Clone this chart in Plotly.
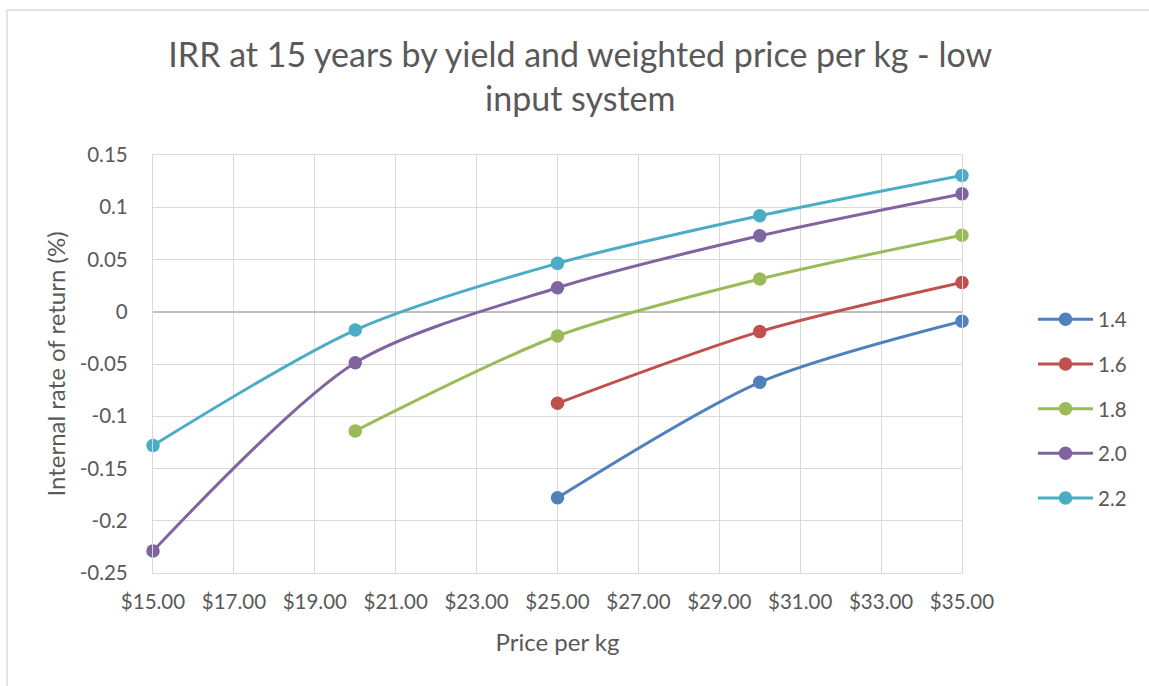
import plotly.graph_objects as go

# Weighted price per kg (AUD) at which each yield scenario was evaluated
price_14 = [25, 30, 35]
price_16 = [25, 30, 35]
price_18 = [20, 25, 30, 35]
price_20 = [15, 20, 25, 30, 35]
price_22 = [15, 20, 25, 30, 35]

# Internal rate of return at 15 years for each yield level
irr_14 = [-0.178, -0.0675, -0.009]
irr_16 = [-0.0876, -0.019, 0.028]
irr_18 = [-0.114, -0.0232, 0.0313, 0.0733]
irr_20 = [-0.229, -0.0488, 0.023, 0.0727, 0.1128]
irr_22 = [-0.128, -0.0175, 0.0463, 0.0918, 0.1304]

yield_labels = ["1.4", "1.6", "1.8", "2.0", "2.2"]
colors = ["#4f81bd", "#c0504d", "#9bbb59", "#8064a2", "#4bacc6"]

x_ticks = list(range(15, 36, 2))
x_ticktext = [f"${v:.2f}" for v in x_ticks]
y_ticks = [0.15, 0.1, 0.05, 0, -0.05, -0.1, -0.15, -0.2, -0.25]
y_ticktext = ["0.15", "0.1", "0.05", "0", "-0.05", "-0.1", "-0.15", "-0.2", "-0.25"]

series = [
    (price_14, irr_14),
    (price_16, irr_16),
    (price_18, irr_18),
    (price_20, irr_20),
    (price_22, irr_22),
]

FONT = "Lato, 'Open Sans', sans-serif"
TEXT = "#595959"
GRID = "#d9d9d9"

fig = go.Figure()
for (xs, ys), name, col in zip(series, yield_labels, colors):
    fig.add_trace(go.Scatter(
        x=xs, y=ys, name=name, mode="lines+markers",
        line=dict(color=col, width=3, shape="spline", smoothing=0.8),
        marker=dict(color=col, size=13.5),
        legendgroup=name, cliponaxis=False,
    ))

W, H = 1149, 686
L, R, T, B = 153, 962, 155, 573

fig.update_layout(
    width=W, height=H,
    margin=dict(l=L, r=W - R, t=T, b=H - B),
    paper_bgcolor="white", plot_bgcolor="white",
    font=dict(family=FONT, color=TEXT, size=20),
    title=dict(
        text="IRR at 15 years by yield and weighted price per kg - low<br>input system",
        font=dict(size=34, color=TEXT, family=FONT),
        x=0.505, xref="container", xanchor="center",
        y=1 - 67 / H, yref="container", yanchor="top",
    ),
    xaxis=dict(
        range=[15, 35], tickvals=x_ticks, ticktext=x_ticktext,
        showgrid=True, gridcolor=GRID, gridwidth=1.3,
        showline=True, linecolor=GRID, linewidth=1.3, mirror=True,
        zeroline=False, ticks="", ticklabelstandoff=10,
        tickfont=dict(size=20.5, color=TEXT),
        title=dict(text="Price per kg", font=dict(size=24, color=TEXT), standoff=22),
    ),
    yaxis=dict(
        range=[-0.25, 0.15], tickvals=y_ticks, ticktext=y_ticktext,
        showgrid=True, gridcolor=GRID, gridwidth=1.3,
        showline=True, linecolor=GRID, linewidth=1.3, mirror=True,
        zeroline=True, zerolinecolor="#bfbfbf", zerolinewidth=1.8,
        ticks="", ticklabelstandoff=20,
        tickfont=dict(size=20.5, color=TEXT),
        title=dict(text="Internal rate of return (%)", font=dict(size=24, color=TEXT), standoff=7),
    ),
    legend=dict(
        x=(1033 - L) / (R - L), xanchor="left",
        y=(B - 409) / (B - T), yanchor="middle",
        font=dict(size=20.5, color=TEXT),
        itemwidth=55, tracegroupgap=15,
        bgcolor="rgba(0,0,0,0)",
    ),
    shapes=[dict(
        type="rect", xref="paper", yref="paper",
        x0=(7 - L) / (R - L), x1=(W + 5 - L) / (R - L),
        y0=(B - (H + 5)) / (B - T), y1=(B - 10) / (B - T),
        line=dict(color="#d9d9d9", width=1.3), layer="below",
    )],
)

fig.write_html("out.html")
